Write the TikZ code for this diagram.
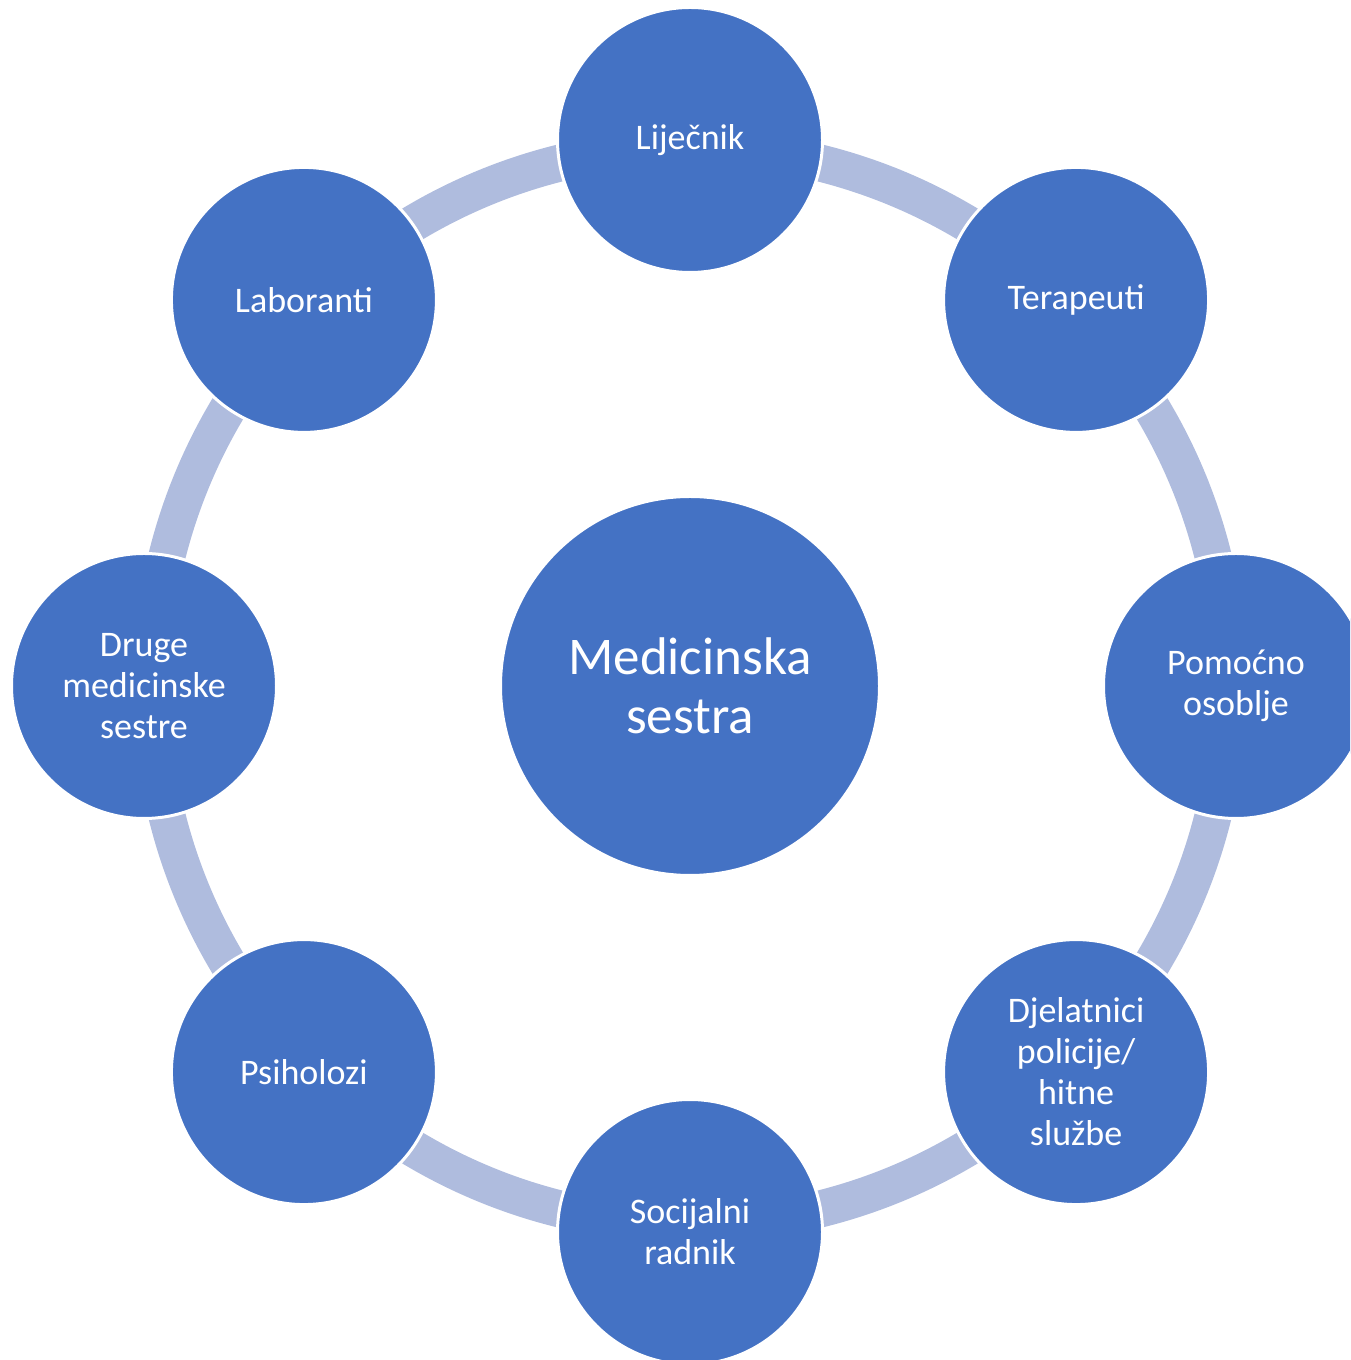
\documentclass[tikz,border=0pt]{standalone}
\usepackage{fontspec}
\setmainfont{Carlito}
\usetikzlibrary{backgrounds}
\definecolor{nodeblue}{RGB}{68,114,196}
\definecolor{ringblue}{RGB}{175,188,222}
\begin{document}
\begin{tikzpicture}[x=1pt,y=1pt,
  outer/.style={circle, fill=nodeblue, draw=white, line width=3pt, minimum size=265pt, inner sep=0pt, text=white, align=center, font=\fontsize{36}{41}\selectfont},
  hub/.style={circle, fill=nodeblue, draw=white, line width=3pt, minimum size=379pt, inner sep=0pt, text=white, align=center, font=\fontsize{53}{59}\selectfont},
  ring/.style={draw=ringblue, line width=37pt, bend left=22.5, looseness=0.885}]
\useasboundingbox (0,0) rectangle (1350,1360);
\clip (0,0) rectangle (1350,1360);
\begin{scope}[shift={(690,674)}]
\node[hub] (hub) at (0,0) {Medicinska\\sestra};
\node[outer] (n1) at (90:546) {Liječnik};
\node[outer] (n2) at (45:546) {Terapeuti};
\node[outer] (n3) at (0:546) {Pomoćno\\osoblje};
\node[outer] (n4) at (-45:546) {Djelatnici\\policije/\\hitne\\službe};
\node[outer] (n5) at (-90:546) {Socijalni\\radnik};
\node[outer] (n6) at (-135:546) {Psiholozi};
\node[outer] (n7) at (180:546) {Druge\\medicinske\\sestre};
\node[outer] (n8) at (135:546) {Laboranti};
\coordinate (p1) at (90:539);
\coordinate (p2) at (45:539);
\coordinate (p3) at (0:539);
\coordinate (p4) at (-45:539);
\coordinate (p5) at (-90:539);
\coordinate (p6) at (-135:539);
\coordinate (p7) at (180:539);
\coordinate (p8) at (135:539);
\end{scope}
\begin{scope}[on background layer]
\draw[ring] (p1) to (p2);
\draw[ring] (p2) to (p3);
\draw[ring] (p3) to (p4);
\draw[ring] (p4) to (p5);
\draw[ring] (p5) to (p6);
\draw[ring] (p6) to (p7);
\draw[ring] (p7) to (p8);
\draw[ring] (p8) to (p1);
\end{scope}
\end{tikzpicture}
\end{document}
